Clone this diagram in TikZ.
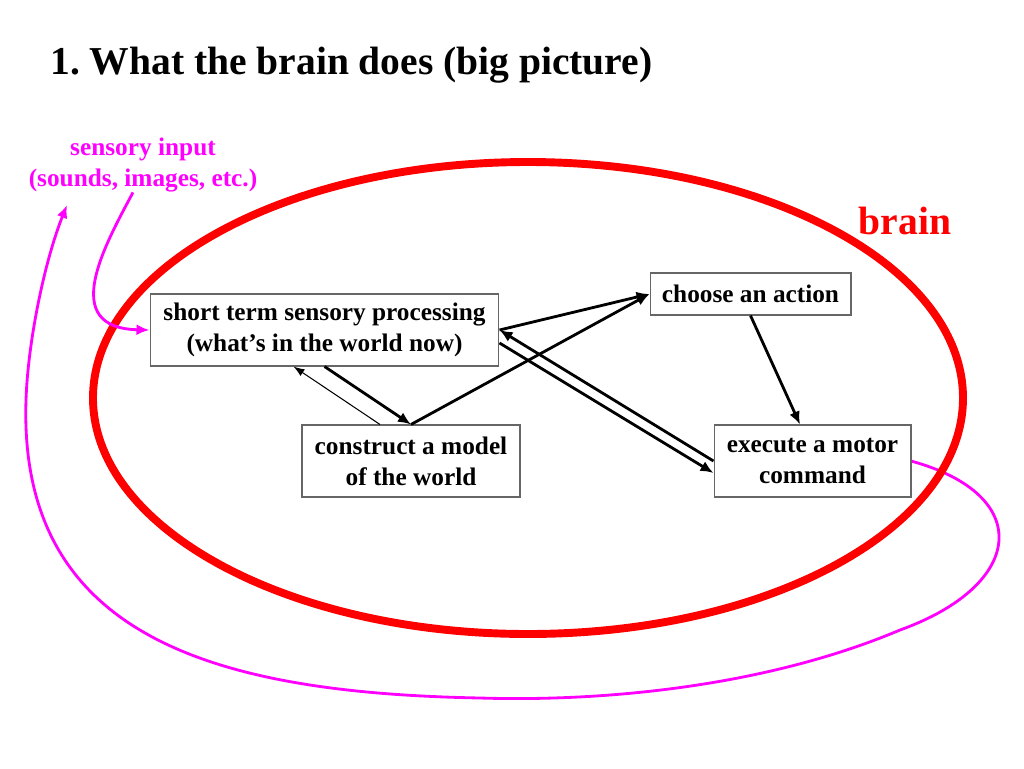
\documentclass[tikz,border=0pt]{standalone}
\usepackage{fontspec}
\setmainfont{Liberation Serif}
\usetikzlibrary{arrows.meta}

\definecolor{inputpink}{RGB}{255,0,255}
\definecolor{brainred}{RGB}{255,0,0}

\tikzset{
  box/.style={draw=black!60, line width=0.6pt, fill=white, align=center, inner sep=0pt,
    font=\fontsize{14.4}{17.6}\selectfont\bfseries},
  flow/.style={line width=1.6pt, -{Latex[length=2.6mm,width=2.2mm]}},
  thinflow/.style={line width=0.6pt, -{Latex[length=2.2mm,width=1.6mm]}},
  feedback/.style={inputpink, line width=1.6pt, -{Latex[length=2.6mm,width=2.2mm]}},
}

\begin{document}
\frenchspacing
\begin{tikzpicture}[x=0.02cm, y=-0.02cm]
        \useasboundingbox (0,0) rectangle (1024,768);

        \node[anchor=base west, inner sep=0pt, font=\fontsize{22.5}{27}\selectfont\bfseries] (title) at (50,74) {1. What the brain does (big picture)};
        \node[inputpink, align=center, inner sep=0pt, font=\fontsize{14.4}{17.6}\selectfont\bfseries] (input) at (143,165) {sensory input\\(sounds, images, etc.)};
        \node[brainred, inner sep=0pt, font=\fontsize{22.5}{27}\selectfont\bfseries] (brain) at (905,221) {brain};
        \coordinate (back) at (67,205);

        % feedback from the motor side, round the outside
        \draw[feedback] (911,461) .. controls (1035,495) and (1025,585) .. (900,630)
              .. controls (770,685) and (610,702) .. (480,698)
              .. controls (220,693) and (18,640) .. (26,400)
              .. controls (28,340) and (45,260) .. (back);

        \draw[brainred, line width=4.5pt] (528,398) ellipse [x radius=435, y radius=236];

        \node[box, minimum width=6.98cm, minimum height=1.44cm] (sens)   at (324.5,330) {short term sensory processing\\(what’s in the world now)};
        \node[box, minimum width=4.02cm, minimum height=0.84cm] (choose) at (750.5,294) {choose an action};
        \node[box, minimum width=4.36cm, minimum height=1.44cm] (model)  at (411,461)   {construct a model\\of the world};
        \node[box, minimum width=3.94cm, minimum height=1.44cm] (motor)  at (812.5,461) {execute a motor\\command};

        \draw[feedback] ([xshift=-0.2cm]input.south) .. controls (105,245) and (58,328) .. (sens.west);

        \draw[thinflow] ([xshift=-0.62cm]model.north) to ([xshift=-0.62cm]sens.south);
        \draw[flow] (sens.south) to (model.north);
        \draw[flow] (model.north) to (choose.west);
        \draw[flow] (sens.east) to (choose.west);
        \draw[flow] (motor.west) to (sens.east);
        \draw[flow] ([yshift=-0.26cm]sens.east) to ([yshift=-0.24cm]motor.west);
        \draw[flow] (choose.south) to ([xshift=-0.25cm]motor.north);
      \end{tikzpicture}
\end{document}
